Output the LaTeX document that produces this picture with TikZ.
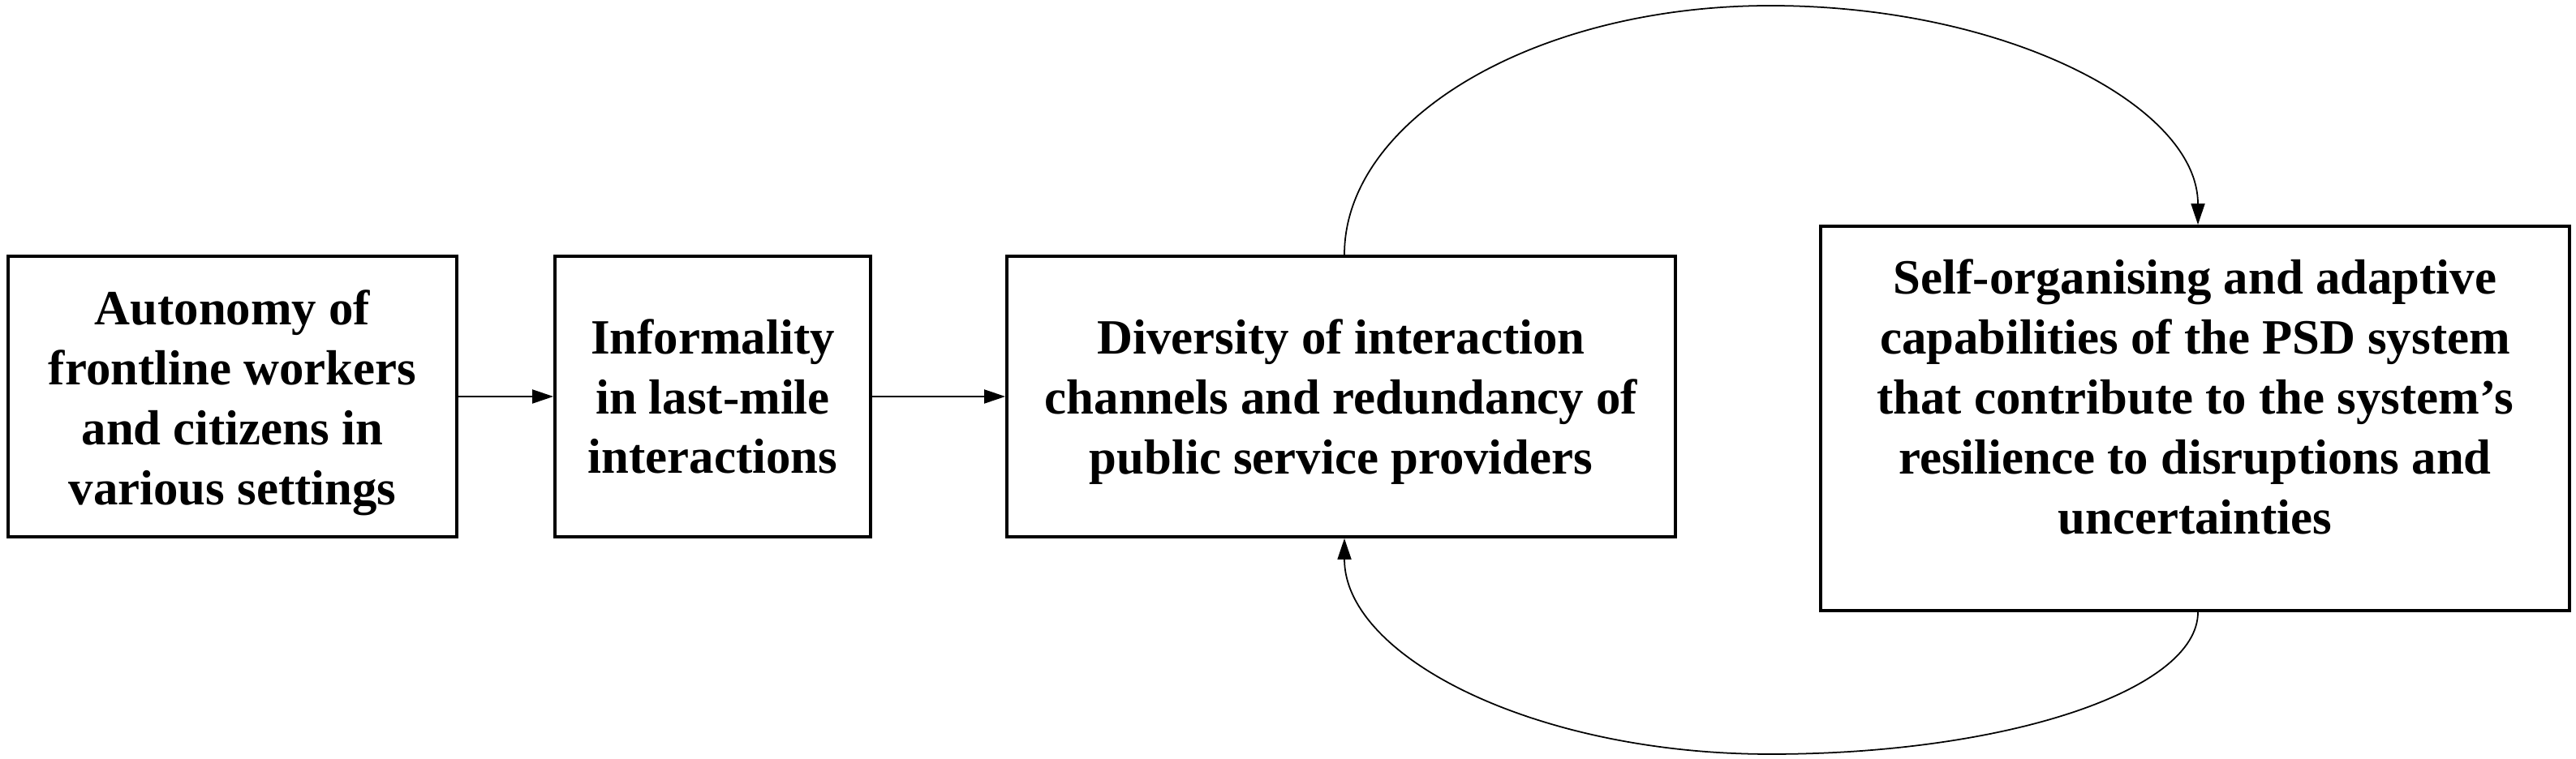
\documentclass[tikz,border=0pt]{standalone}
\usepackage{fontspec}
\setmainfont{Liberation Serif}
\usetikzlibrary{arrows.meta}
\begin{document}
\begin{tikzpicture}[
  boxnode/.style={draw=black, line width=1.1pt, rectangle, inner sep=0pt},
  txt/.style={align=center, inner sep=0pt, font=\fontsize{17.3}{21}\selectfont\bfseries},
  conn/.style={line width=0.6pt, -{Triangle[length=0.26cm,width=0.17cm]}},
  loop/.style={line width=0.5pt, -{Triangle[length=0.26cm,width=0.17cm]}}
]
\useasboundingbox (0,0) rectangle (31.75,9.36);
% boxes
\node[boxnode, minimum width=5.53cm, minimum height=3.46cm] (b1) at (2.865,4.47) {};
\node[boxnode, minimum width=3.89cm, minimum height=3.46cm] (b2) at (8.785,4.47) {};
\node[boxnode, minimum width=8.24cm, minimum height=3.46cm] (b3) at (16.53,4.47) {};
\node[boxnode, minimum width=9.23cm, minimum height=4.74cm] (b4) at (27.055,4.20) {};
% texts
\node[txt] (t1) at (2.865,4.39) {Autonomy of\\frontline workers\\and citizens in\\various settings};
\node[txt] (t2) at (8.785,4.47) {Informality\\in last-mile\\interactions};
\node[txt] (t3) at (16.53,4.405) {Diversity of interaction\\channels and redundancy of\\public service providers};
\node[txt] (t4) at (27.055,4.465) {Self-organising and adaptive\\capabilities of the PSD system\\that contribute to the system’s\\resilience to disruptions and\\uncertainties};
% straight connectors
\draw[conn] (b1.east) -- (b2.west);
\draw[conn] (b2.east) -- (b3.west);
% loop coordinates
\coordinate (xa) at (16.57,0);
\coordinate (xb) at (27.09,0);
\coordinate (top) at (21.82,9.29);
\coordinate (bot) at (21.82,0.06);
\draw[loop] (b3.north -| xa) .. controls (16.57,7.89) and (18.92,9.29) .. (top)
  .. controls (24.73,9.29) and (27.09,8.05) .. (b4.north -| xb);
\draw[loop] (b4.south -| xb) .. controls (27.09,0.85) and (24.73,0.06) .. (bot)
  .. controls (18.92,0.06) and (16.57,1.26) .. (b3.south -| xa);
\end{tikzpicture}
\end{document}
